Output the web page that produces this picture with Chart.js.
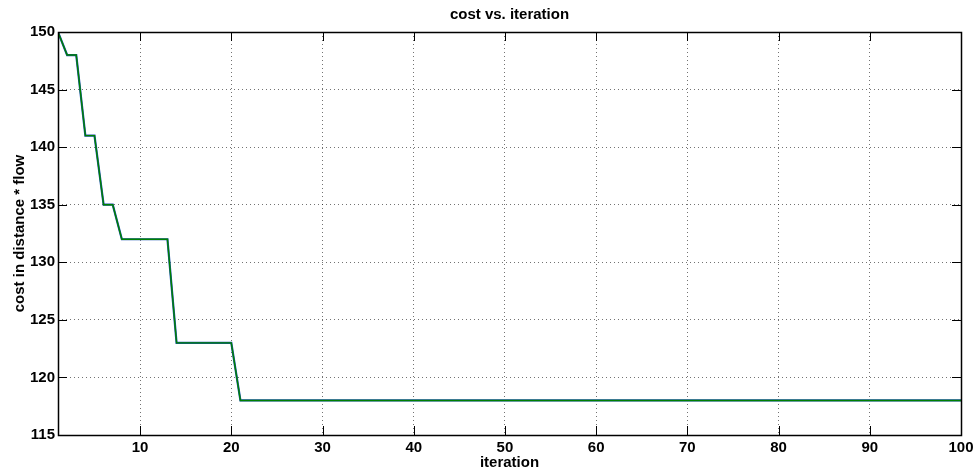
<!DOCTYPE html>
<html>
<head>
<meta charset="utf-8">
<script src="https://cdn.jsdelivr.net/npm/chart.js@4"></script>
<style>
  html, body { margin: 0; padding: 0; background: #fff; }
  #wrap { width: 974px; height: 470px; }
</style>
</head>
<body>
<div id="wrap"><canvas id="costChart" width="974" height="470"></canvas></div>
<script>
// cost per iteration (iteration number = position + 1)
const cost = [
    150, 148, 148, 141, 141, 135, 135, 132, 132, 132,
    132, 132, 132, 123, 123, 123, 123, 123, 123, 123,
    118, 118, 118, 118, 118, 118, 118, 118, 118, 118,
    118, 118, 118, 118, 118, 118, 118, 118, 118, 118,
    118, 118, 118, 118, 118, 118, 118, 118, 118, 118,
    118, 118, 118, 118, 118, 118, 118, 118, 118, 118,
    118, 118, 118, 118, 118, 118, 118, 118, 118, 118,
    118, 118, 118, 118, 118, 118, 118, 118, 118, 118,
    118, 118, 118, 118, 118, 118, 118, 118, 118, 118,
    118, 118, 118, 118, 118, 118, 118, 118, 118, 118
];
const xTicks = [10, 20, 30, 40, 50, 60, 70, 80, 90, 100];
const yTicks = [115, 120, 125, 130, 135, 140, 145, 150];

const points = cost.map((c, i) => ({ x: i + 1, y: c }));
const tickFont = { family: 'Liberation Sans, Arial, sans-serif', size: 15, weight: 'bold' };
const labelFont = { family: 'Liberation Sans, Arial, sans-serif', size: 15, weight: 'bold' };

// matlab style box + inward tick marks
const axesBox = {
    id: 'axesBox',
    afterDraw(chart) {
        const ctx = chart.ctx;
        const a = chart.chartArea;
        const xs = chart.scales.x, ys = chart.scales.y;
        const len = 9;
        ctx.save();
        ctx.strokeStyle = '#000';
        ctx.lineWidth = 1;
        ctx.beginPath();
        xTicks.forEach(v => {
            const px = Math.round(xs.getPixelForValue(v)) + 0.5;
            ctx.moveTo(px, a.bottom); ctx.lineTo(px, a.bottom - len);
            ctx.moveTo(px, a.top); ctx.lineTo(px, a.top + len);
        });
        yTicks.forEach(v => {
            const py = Math.round(ys.getPixelForValue(v)) + 0.5;
            ctx.moveTo(a.left, py); ctx.lineTo(a.left + len, py);
            ctx.moveTo(a.right, py); ctx.lineTo(a.right - len, py);
        });
        ctx.stroke();
        ctx.lineWidth = 1.5;
        ctx.strokeRect(Math.round(a.left) + 0.5, Math.round(a.top) + 0.5,
            Math.round(a.right - a.left), Math.round(a.bottom - a.top));
        ctx.restore();
    }
};

new Chart(document.getElementById('costChart'), {
    type: 'line',
    data: {
        datasets: [
            {
                label: 'green',
                data: points,
                borderColor: '#008000',
                borderWidth: 1.4,
                pointRadius: 0,
                tension: 0,
                order: 0
            },
            {
                label: 'blue',
                data: points,
                borderColor: '#1a4fb0',
                borderWidth: 2.2,
                pointRadius: 0,
                tension: 0,
                order: 1
            }
        ]
    },
    options: {
        responsive: false,
        animation: false,
        layout: { padding: { left: 0, right: 13, top: 0, bottom: 0 } },
        plugins: {
            legend: { display: false },
            tooltip: { enabled: false },
            title: {
                display: true,
                text: 'cost vs. iteration',
                fullSize: false,
                color: '#000',
                font: labelFont,
                padding: { top: 6.3, bottom: 7.7 }
            }
        },
        scales: {
            x: {
                type: 'linear',
                min: 1,
                max: 100,
                afterFit(scale) {
                    scale.height = 35;
                    scale.paddingLeft = 0;
                    scale.paddingRight = 0;
                },
                afterBuildTicks(scale) { scale.ticks = xTicks.map(v => ({ value: v })); },
                ticks: { color: '#000', font: tickFont, padding: 4, autoSkip: false, maxRotation: 0 },
                grid: { color: 'rgba(0,0,0,0.55)', drawTicks: false, lineWidth: 1 },
                border: { display: false, dash: [1, 3] },
                title: { display: true, text: 'iteration', color: '#000', font: labelFont, padding: { top: 0, bottom: -1.5 } }
            },
            y: {
                min: 115,
                max: 150,
                afterFit(scale) { scale.width = 58; },
                afterBuildTicks(scale) { scale.ticks = yTicks.map(v => ({ value: v })); },
                ticks: { color: '#000', font: tickFont, padding: 3 },
                grid: { color: 'rgba(0,0,0,0.55)', drawTicks: false, lineWidth: 1 },
                border: { display: false, dash: [1, 3] },
                title: { display: true, text: 'cost in distance * flow', color: '#000', font: labelFont, padding: { top: 10.5, bottom: 0 } }
            }
        }
    },
    plugins: [axesBox]
});
</script>
</body>
</html>
